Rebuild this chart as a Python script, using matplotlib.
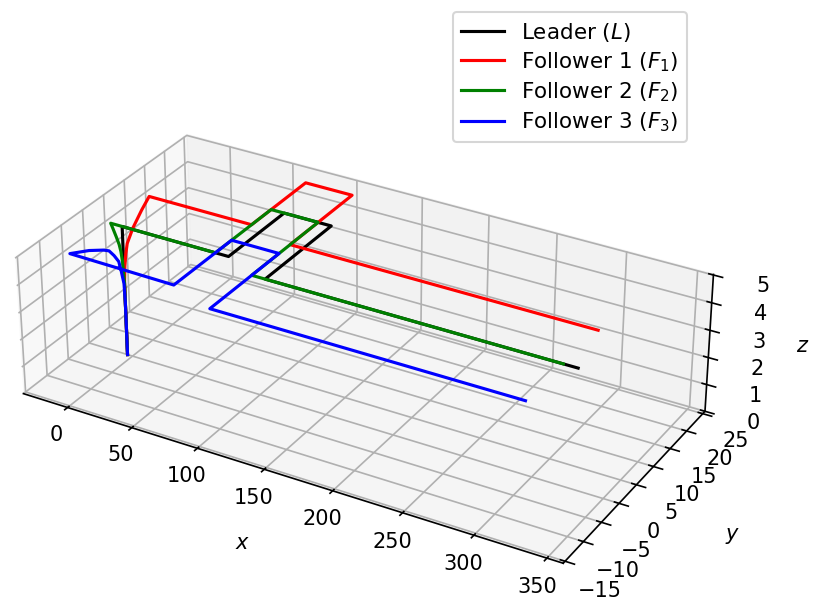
import numpy as np
import matplotlib
matplotlib.use('Agg')
import matplotlib.pyplot as plt

# waypoints
leader_x = [-4, -4, -4, 78, 78, 114, 114, 336]
leader_y = [0, 0, 0, 0, 14, 14, -2.8, -2.8]
leader_z = [0, 2.7, 4.8, 4.8, 4.8, 4.8, 4.8, 4.8]

f1_x = [-4, -4, -4.2, -4.7, -5.3, -7, -10, -12, 68, 68, 104, 104, 326]
f1_y = [0, 0, 0.3, 0.8, 1.4, 3.4, 6.5, 9, 9, 23, 23, 6.8, 6.8]
f1_z = [0, 2.7, 3.3, 3.7, 4.0, 4.33, 4.6, 4.8, 4.8, 4.8, 4.8, 4.8, 4.8]

f2_x = [-4, -4, -4.9, -5.8, -7, -9, -11.5, -13, 68, 68, 104, 104, 326]
f2_y = [0, 0, 0, 0, 0, 0, 0, 0, 0, 14, 14, -2.8, -2.8]
f2_z = [0, 2.7, 3.5, 3.85, 4.1, 4.35, 4.64, 4.8, 4.8, 4.8, 4.8, 4.8, 4.8]

f3_x = [-4, -4, -4.1, -4.5, -4.8, -5.5, -6.3, -7.2, -9.6, -12.5, 68, 68, 104, 104, 326]
f3_y = [0, 0, -0.1, -0.5, -0.9, -1.7, -2.6, -3.6, -6.2, -9.7, -10, 4, 4, -12.9, -12.9]
f3_z = [0, 2.0, 2.7, 3.2, 3.6, 3.9, 4.17, 4.3, 4.55, 4.8, 4.8, 4.8, 4.8, 4.8, 4.8]

fig = plt.figure(figsize=(5.44, 3.987), dpi=150)
ax = fig.add_axes([-0.0955, -0.0738, 1.06, 1.0], projection='3d')
ax.set_box_aspect((8, 4.1, 2.05), zoom=1.15)
ax.plot(leader_x, leader_y, leader_z, color='k', label='Leader ($L$)')
ax.plot(f1_x, f1_y, f1_z, color='r', label='Follower 1 ($F_1$)')
ax.plot(f2_x, f2_y, f2_z, color='g', label='Follower 2 ($F_2$)')
ax.plot(f3_x, f3_y, f3_z, color='b', label='Follower 3 ($F_3$)')

ax.set_xlim(-35, 361)
ax.set_ylim(-15.5, 25.7)
ax.set_zlim(0, 5.02)
ax.set_xlabel('$x$', labelpad=14)
ax.set_ylabel('$y$')
ax.set_zlabel('$z$', labelpad=-1)
ax.tick_params(axis='x', pad=1.5)
ax.tick_params(axis='y', pad=1)
ax.tick_params(axis='z', pad=2.5)
fig.legend(loc='upper right', bbox_to_anchor=(687 / 816, 1 - 12 / 598), borderaxespad=0,
           labelspacing=0.3, fontsize=10.3)
fig.savefig('out.png', dpi=150)
